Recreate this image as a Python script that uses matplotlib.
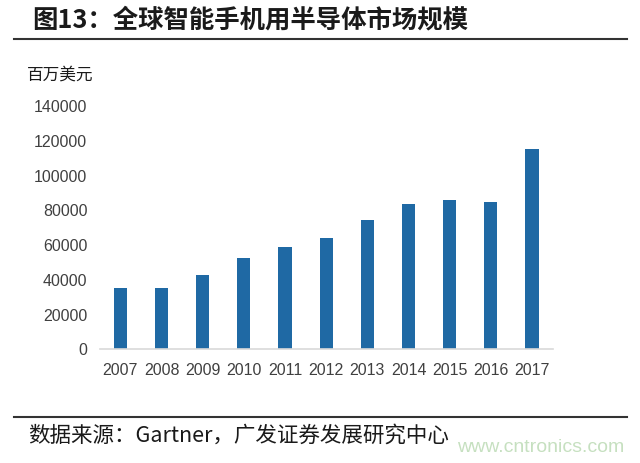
import matplotlib.pyplot as plt
from matplotlib.lines import Line2D

years = ['2007', '2008', '2009', '2010', '2011', '2012', '2013', '2014', '2015', '2016', '2017']
market = [35400, 35200, 42700, 52800, 59100, 64200, 74500, 83600, 86200, 84900, 115600]
yticks = [0, 20000, 40000, 60000, 80000, 100000, 120000, 140000]

cjk = ['Noto Sans CJK SC', 'DejaVu Sans']
num_font = 'Liberation Sans'

fig = plt.figure(figsize=(6.4, 4.63), dpi=100)
ax = fig.add_axes([0.156, 0.2456, 0.7074, 0.5246])

ax.bar(range(len(years)), market, width=0.32, color='#1f69a4', zorder=2)
ax.set_xlim(-0.5, len(years) - 0.5)
ax.set_ylim(0, 140000)
ax.set_yticks(yticks)
ax.set_yticklabels([str(v) for v in yticks])
ax.set_xticks(range(len(years)))
ax.set_xticklabels(years)

for s in ['top', 'right', 'left']:
    ax.spines[s].set_visible(False)
ax.spines['bottom'].set_color('#d9d9d9')
ax.spines['bottom'].set_linewidth(1.2)
ax.tick_params(axis='both', length=0, labelcolor='#404040', labelsize=11.5)
ax.tick_params(axis='y', pad=9)
ax.tick_params(axis='x', pad=10)
for lab in ax.get_xticklabels() + ax.get_yticklabels():
    lab.set_fontfamily(num_font)

# title and rules
fig.text(32 / 640, 1 - 20 / 463, '图13：全球智能手机用半导体市场规模', family=cjk,
         fontsize=18.3, fontweight='bold', color='#1a1a1a', va='center', ha='left')
fig.add_artist(Line2D([14 / 640, 627 / 640], [1 - 39 / 463, 1 - 39 / 463],
                      color='#333333', linewidth=1.5))
fig.text(27 / 640, 1 - 75 / 463, '百万美元', family=cjk, fontsize=12,
         color='#1a1a1a', va='center', ha='left')

fig.add_artist(Line2D([14 / 640, 627 / 640], [1 - 417 / 463, 1 - 417 / 463],
                      color='#333333', linewidth=1.5))
fig.text(28 / 640, 1 - 436 / 463, '数据来源：Gartner，广发证券发展研究中心', family=cjk,
         fontsize=15.5, color='#1a1a1a', va='center', ha='left')
fig.text(457 / 640, 1 - 448 / 463, 'www.cntronics.com', family=num_font,
         fontsize=14, color='#c6e0c0', va='center', ha='left')

fig.savefig('out.png', dpi=100)
